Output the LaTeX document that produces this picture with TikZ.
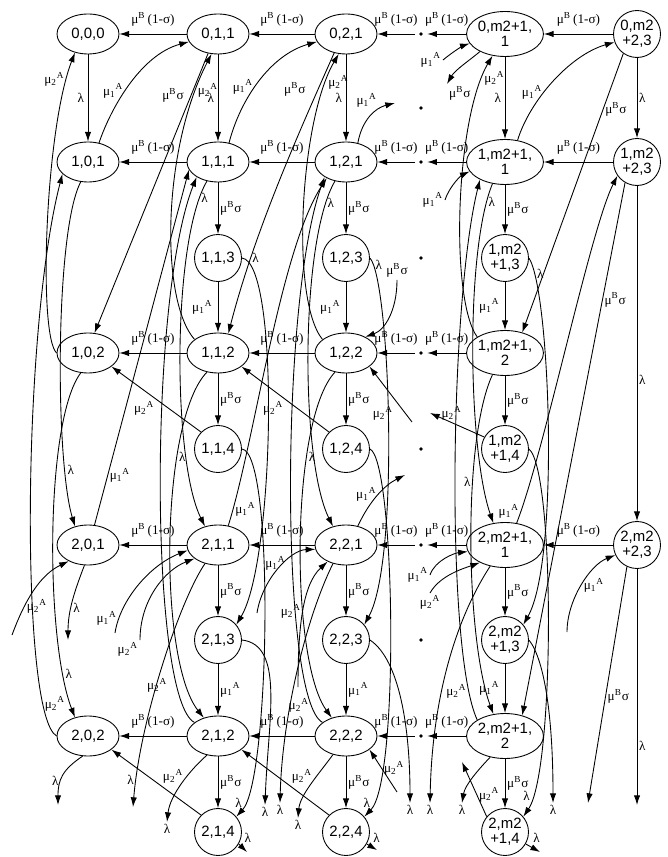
\documentclass[tikz,border=0pt]{standalone}
\usepackage{fontspec}
\setmainfont{Liberation Serif}
\newfontfamily\sansf{Liberation Sans}
\usepackage{tikz}
\usetikzlibrary{shapes,arrows,arrows.meta,positioning,calc}
\newcommand{\mbone}{μ\textsuperscript{B}\,(1-σ)}
\newcommand{\mbsig}{μ\textsuperscript{B}σ}
\newcommand{\muone}{μ\textsubscript{1}\textsuperscript{A}}
\newcommand{\mutwo}{μ\textsubscript{2}\textsuperscript{A}}
\newcommand{\lmb}{λ}
\tikzset{
st/.style = {draw, ellipse, minimum width=1.24cm, minimum height=0.8cm, inner sep=0pt, align=center, font=\sansf\fontsize{8.5}{8.6}\selectfont},
wst/.style = {st, minimum width=1.26cm, minimum height=0.9cm},
cst/.style = {draw, circle, minimum size=0.94cm, inner sep=0pt, align=center, font=\sansf\fontsize{8.5}{8.6}\selectfont},
dot/.style = {circle, fill, minimum size=2.2pt, inner sep=0pt, outer sep=2.5pt},
lab/.style = {font=\fontsize{7.5}{8}\selectfont, inner sep=1pt}
}
\begin{document}
\begin{tikzpicture}[x=0.02cm, y=-0.02cm, >={Latex[length=5.5pt,width=3.6pt]}, line width=0.5pt]
\useasboundingbox (0,0) rectangle (667,857);

\node [st] (n000) at (88,34) {0,0,0};
\node [st] (n011) at (218,34) {0,1,1};
\node [st] (n021) at (346,34) {0,2,1};
\node [dot] (d01) at (421,34) {};
\node [wst] (n0m1) at (505,34) {0,m2+1,\\1};
\node [cst] (n0e3) at (637,34) {0,m2\\+2,3};
\node [dot] (d03) at (421,108) {};

\node [st] (n101) at (88,162) {1,0,1};
\node [st] (n111) at (218,162) {1,1,1};
\node [st] (n121) at (346,162) {1,2,1};
\node [dot] (d11) at (421,162) {};
\node [wst] (n1m1) at (505,162) {1,m2+1,\\1};
\node [cst] (n1e3) at (637,162) {1,m2\\+2,3};

\node [cst] (n113) at (218,258) {1,1,3};
\node [cst] (n123) at (346,258) {1,2,3};
\node [dot] (d13) at (421,258) {};
\node [cst] (n1m3) at (505,258) {1,m2\\+1,3};

\node [st] (n102) at (88,353) {1,0,2};
\node [st] (n112) at (218,353) {1,1,2};
\node [st] (n122) at (346,353) {1,2,2};
\node [dot] (d12) at (421,353) {};
\node [wst] (n1m2) at (505,353) {1,m2+1,\\2};

\node [cst] (n114) at (218,449) {1,1,4};
\node [cst] (n124) at (346,449) {1,2,4};
\node [dot] (d14) at (421,449) {};
\node [cst] (n1m4) at (505,449) {1,m2\\+1,4};

\node [st] (n201) at (88,545) {2,0,1};
\node [st] (n211) at (218,545) {2,1,1};
\node [st] (n221) at (346,545) {2,2,1};
\node [dot] (d21) at (421,545) {};
\node [wst] (n2m1) at (505,545) {2,m2+1,\\1};
\node [cst] (n2e3) at (637,545) {2,m2\\+2,3};

\node [cst] (n213) at (218,640) {2,1,3};
\node [cst] (n223) at (346,640) {2,2,3};
\node [dot] (d23) at (421,640) {};
\node [cst] (n2m3) at (505,640) {2,m2\\+1,3};

\node [st] (n202) at (88,736) {2,0,2};
\node [st] (n212) at (218,736) {2,1,2};
\node [st] (n222) at (346,736) {2,2,2};
\node [dot] (d22) at (421,736) {};
\node [wst] (n2m2) at (505,736) {2,m2+1,\\2};

\node [cst] (n214) at (218,832) {2,1,4};
\node [cst] (n224) at (346,832) {2,2,4};
\node [cst] (n2m4) at (505,832) {2,m2\\+1,4};

\coordinate (x201) at (68,640);
\coordinate (x202) at (58,805);
\coordinate (i201) at (12,635);
\coordinate (x211) at (133,807);
\coordinate (x212) at (167,822);
\coordinate (x213) at (265,805);
\coordinate (x214) at (247,852);
\coordinate (i211a) at (115,633);
\coordinate (i211b) at (140,640);
\coordinate (o121) at (395,103);
\coordinate (o221) at (405,475);
\coordinate (x221) at (280,803);
\coordinate (x222) at (298,818);
\coordinate (x223) at (410,803);
\coordinate (x224) at (377,850);
\coordinate (i222) at (397,792);
\coordinate (i122) at (412,422);
\coordinate (i122b) at (397,280);
\coordinate (i221a) at (257,613);
\coordinate (i221b) at (298,687);
\coordinate (i0m1) at (443,60);
\coordinate (o0m1) at (447,84);
\coordinate (i1m1) at (445,200);
\coordinate (i2m1a) at (430,575);
\coordinate (i2m1b) at (430,593);
\coordinate (x2m1) at (430,803);
\coordinate (x2m2) at (462,803);
\coordinate (x2m3) at (553,803);
\coordinate (x2m4) at (540,852);
\coordinate (o2m4) at (462,762);
\coordinate (o1m4) at (430,413);
\coordinate (i2e3) at (567,632);
\coordinate (x2e3) at (588,803);
\coordinate (y2e3) at (637,805);

\foreach \a/\b in {n011/n000, n021/n011, d01/n021, n0m1/d01, n0e3/n0m1,
  n111/n101, n121/n111, d11/n121, n1m1/d11, n1e3/n1m1,
  n112/n102, n122/n112, d12/n122, n1m2/d12,
  n211/n201, n221/n211, d21/n221, n2m1/d21, n2e3/n2m1,
  n212/n202, n222/n212, d22/n222, n2m2/d22}
  \draw [->] (\a) -- node [lab, above=3pt] {\mbone} (\b);

\foreach \a/\b in {n000/n101, n011/n111, n021/n121, n0m1/n1m1}
  \draw [->] (\a) -- node [lab, left=1pt] {\lmb} (\b);
\foreach \a/\b in {n111/n113, n121/n123, n1m1/n1m3, n112/n114, n122/n124, n1m2/n1m4,
  n211/n213, n221/n223, n2m1/n2m3, n212/n214, n222/n224, n2m2/n2m4}
  \draw [->] (\a) -- node [lab, right] {\mbsig} (\b);
\foreach \a/\b in {n113/n112, n123/n122, n1m3/n1m2, n2m3/n2m2}
  \draw [->] (\a) -- node [lab, left=2pt] {\muone} (\b);
\foreach \a/\b in {n213/n212, n223/n222}
  \draw [->] (\a) -- node [lab, right] {\muone} (\b);

\draw [->] (n0e3) -- node [lab, right] {\lmb} (n1e3);
\draw [->] (n1e3) -- node [lab, right, pos=0.58] {\lmb} (n2e3);
\draw [->] (n2e3) -- node [lab, right, pos=0.75] {\lmb} (y2e3);

\draw [->] (n102.west) .. controls (38,335) and (45,130) .. (n000.235) node [lab, left, pos=0.9] {\mutwo};
\draw [->] (n202.west) .. controls (20,715) and (22,330) .. (n101.205) node [lab, right, pos=0.15] {\mutwo};
\draw [->] (n101.250) .. controls (55,230) and (55,460) .. (n201.125) node [lab, right, pos=0.8] {\lmb};
\draw [->] (n102.250) .. controls (45,420) and (45,640) .. (n202.125) node [lab, right, pos=0.85] {\lmb};
\draw [->] (n201.260) .. controls (75,590) and (68,610) .. (x201) node [lab, right, pos=0.6] {\lmb};
\draw [->] (n202.255) .. controls (62,770) and (58,780) .. (x202) node [lab, left, pos=0.6] {\lmb};
\draw [->] (i201) .. controls (25,600) and (40,575) .. (n201.220) node [lab, right, pos=0.3] {\mutwo};
\draw [->] (n101.60) .. controls (110,110) and (140,55) .. (n011.195) node [lab, left, pos=0.45] {\muone};
\draw [->] (n201.72) -- node [lab, right, pos=0.14] {\muone} (n111.195);
\draw [->] (n011.243) -- node [lab, left=3pt, pos=0.15] {\mbsig} (n102.72);

\draw [->] (n111.60) .. controls (240,100) and (270,55) .. (n021.195) node [lab, left, pos=0.45] {\muone};
\draw [->] (n021.238) .. controls (300,130) and (255,230) .. (n112.62) node [lab, left=6pt, pos=0.15] {\mbsig};
\draw [->] (n112.150) .. controls (160,300) and (162,150) .. (n011.252) node [lab, right, pos=0.88] {\mutwo};
\draw [->] (n212.150) .. controls (150,700) and (148,300) .. (n111.215) node [lab, left=4pt, pos=0.16] {\mutwo};
\draw [->] (n111.240) .. controls (172,240) and (172,460) .. (n211.125) node [lab, right, pos=0.08] {\lmb};
\draw [->] (n112.240) .. controls (160,420) and (158,660) .. (n212.128) node [lab, right, pos=0.3] {\lmb};
\draw [->] (n211.62) .. controls (255,440) and (280,250) .. (n121.220) node [lab, right, pos=0.06] {\muone};
\draw [->] (n113.east) .. controls (280,262) and (275,560) .. (n213.40) node [lab, above right, pos=0.08] {\lmb};
\draw [->] (n114.east) .. controls (275,452) and (270,780) .. (n214.40) node [lab, left, pos=0.92] {\lmb};
\draw [->] (n213.east) .. controls (285,645) and (268,720) .. (x213) node [lab, below, pos=1] {\lmb};
\draw [->] (n214.-30) -- (x214) node [lab, above right=1pt, pos=0.3] {\lmb};
\draw [->] (n212.240) .. controls (190,770) and (170,795) .. (x212) node [lab, below, pos=1] {\lmb};
\draw [->] (n211.235) .. controls (180,600) and (140,720) .. (x211) node [lab, left, pos=0.9] {\lmb};
\draw [->] (n214.135) -- node [lab, above right, pos=0.45] {\mutwo} (n202.330);
\draw [->] (n114.135) -- node [lab, below left, pos=0.5] {\mutwo} (n102.330);
\draw [->] (i211a) .. controls (120,600) and (150,565) .. (n211.190) node [lab, left, pos=0.15] {\muone};
\draw [->] (i211b) .. controls (140,600) and (165,570) .. (n211.210) node [lab, below left, pos=0] {\mutwo};

\draw [->] (n122.150) .. controls (290,300) and (300,120) .. (n021.250) node [lab, right, pos=0.88] {\mutwo};
\draw [->] (n121.240) .. controls (300,240) and (300,460) .. (n221.125) node [lab, right, pos=0.1] {\lmb};
\draw [->] (n122.240) .. controls (290,420) and (290,660) .. (n222.128) node [lab, right, pos=0.3] {\lmb};
\draw [->] (n222.150) .. controls (280,700) and (280,300) .. (n121.215) node [lab, left, pos=0.1] {\mutwo};
\draw [->] (n121.58) .. controls (362,120) and (375,108) .. (o121) node [lab, above left, pos=0.7] {\muone};
\draw [->] (n221.58) .. controls (370,500) and (385,485) .. (o221) node [lab, left, pos=0.5] {\muone};
\draw [->] (n123.east) .. controls (390,280) and (400,560) .. (n223.40) node [lab, right, pos=0.06] {\lmb};
\draw [->] (n124.east) .. controls (395,460) and (400,780) .. (n224.40) node [lab, left, pos=0.92] {\lmb};
\draw [->] (n223.east) .. controls (400,660) and (410,730) .. (x223) node [lab, below, pos=1] {\lmb};
\draw [->] (n224.-30) -- (x224) node [lab, above right=1pt, pos=0.3] {\lmb};
\draw [->] (n222.235) .. controls (318,775) and (300,795) .. (x222) node [lab, below, pos=1] {\lmb};
\draw [->] (n221.235) .. controls (305,620) and (282,720) .. (x221) node [lab, below, pos=1] {\lmb};
\draw [->] (n224.135) -- node [lab, above right, pos=0.45] {\mutwo} (n212.330);
\draw [->] (n124.135) -- node [lab, below left, pos=0.5] {\mutwo} (n112.330);
\draw [->] (i222) -- node [lab, right, pos=0.55] {\mutwo} (n222.330);
\draw [->] (i122) -- node [lab, left=6pt, pos=0.15] {\mutwo} (n122.330);
\draw [->] (i122b) .. controls (397,310) and (385,330) .. (n122.40) node [lab, above, pos=0] {\mbsig};
\draw [->] (i221a) .. controls (262,580) and (290,550) .. (n221.188) node [lab, above, pos=0.45] {\muone};
\draw [->] (i221b) .. controls (298,630) and (302,585) .. (n221.222) node [lab, left, pos=0.5] {\mutwo};

\draw [->] (i0m1) .. controls (455,50) and (465,45) .. (n0m1.195) node [lab, left, pos=0] {\muone};
\draw [->] (n0m1.215) .. controls (470,60) and (455,70) .. (o0m1) node [lab, below right, pos=1] {\mbsig};
\draw [->] (i1m1) .. controls (450,185) and (462,175) .. (n1m1.195) node [lab, left, pos=0] {\muone};
\draw [->] (i2m1a) .. controls (435,560) and (455,553) .. (n2m1.190) node [lab, left, pos=0] {\muone};
\draw [->] (i2m1b) .. controls (440,575) and (465,568) .. (n2m1.215) node [lab, below, pos=0] {\mutwo};
\draw [->] (n1m2.150) .. controls (450,300) and (455,120) .. (n0m1.240) node [lab, right, pos=0.9] {\mutwo};
\draw [->] (n1m1.240) .. controls (465,250) and (468,450) .. (n2m1.118) node [lab, right, pos=0.08] {\lmb};
\draw [->] (n1m2.240) .. controls (462,440) and (466,640) .. (n2m2.118) node [lab, left, pos=0.35] {\lmb};
\draw [->] (n2m2.150) .. controls (445,650) and (450,300) .. (n1m1.215) node [lab, left, pos=0.1] {\mutwo};
\draw [->] (n1m3.east) .. controls (550,290) and (560,560) .. (n2m3.40) node [lab, right, pos=0.1] {\lmb};
\draw [->] (n1m4.east) .. controls (555,470) and (555,770) .. (n2m4.40) node [lab, left, pos=0.9] {\lmb};
\draw [->] (n2m3.east) .. controls (545,660) and (553,720) .. (x2m3) node [lab, below, pos=1] {\lmb};
\draw [->] (n2m4.-30) -- (x2m4) node [lab, above right=1pt, pos=0.3] {\lmb};
\draw [->] (n2m2.235) .. controls (478,770) and (465,785) .. (x2m2) node [lab, below, pos=1] {\lmb};
\draw [->] (n2m1.235) .. controls (455,620) and (432,700) .. (x2m1) node [lab, below, pos=1] {\lmb};
\draw [->] (n2m4.140) -- node [lab, right, pos=0.4] {\mutwo} (o2m4);
\draw [->] (n1m4.150) -- node [lab, above, pos=0.6] {\mutwo} (o1m4);
\draw [->] (n1m1.60) .. controls (530,100) and (570,55) .. (n0e3.200) node [lab, left, pos=0.4] {\muone};
\draw [->] (n2m1.62) .. controls (545,450) and (590,230) .. (n1e3.215) node [lab, left, pos=0.05] {\muone};
\draw [->] (n0e3.235) -- node [lab, right, pos=0.2] {\mbsig} (n1m2.50);
\draw [->] (n1e3.240) -- node [lab, right, pos=0.22] {\mbsig} (n2m2.50);
\draw [->] (n2e3.245) -- node [lab, right, pos=0.55] {\mbsig} (x2e3);
\draw [->] (i2e3) .. controls (567,600) and (590,565) .. (n2e3.205) node [lab, right, pos=0.5] {\muone};
\end{tikzpicture}
\end{document}
